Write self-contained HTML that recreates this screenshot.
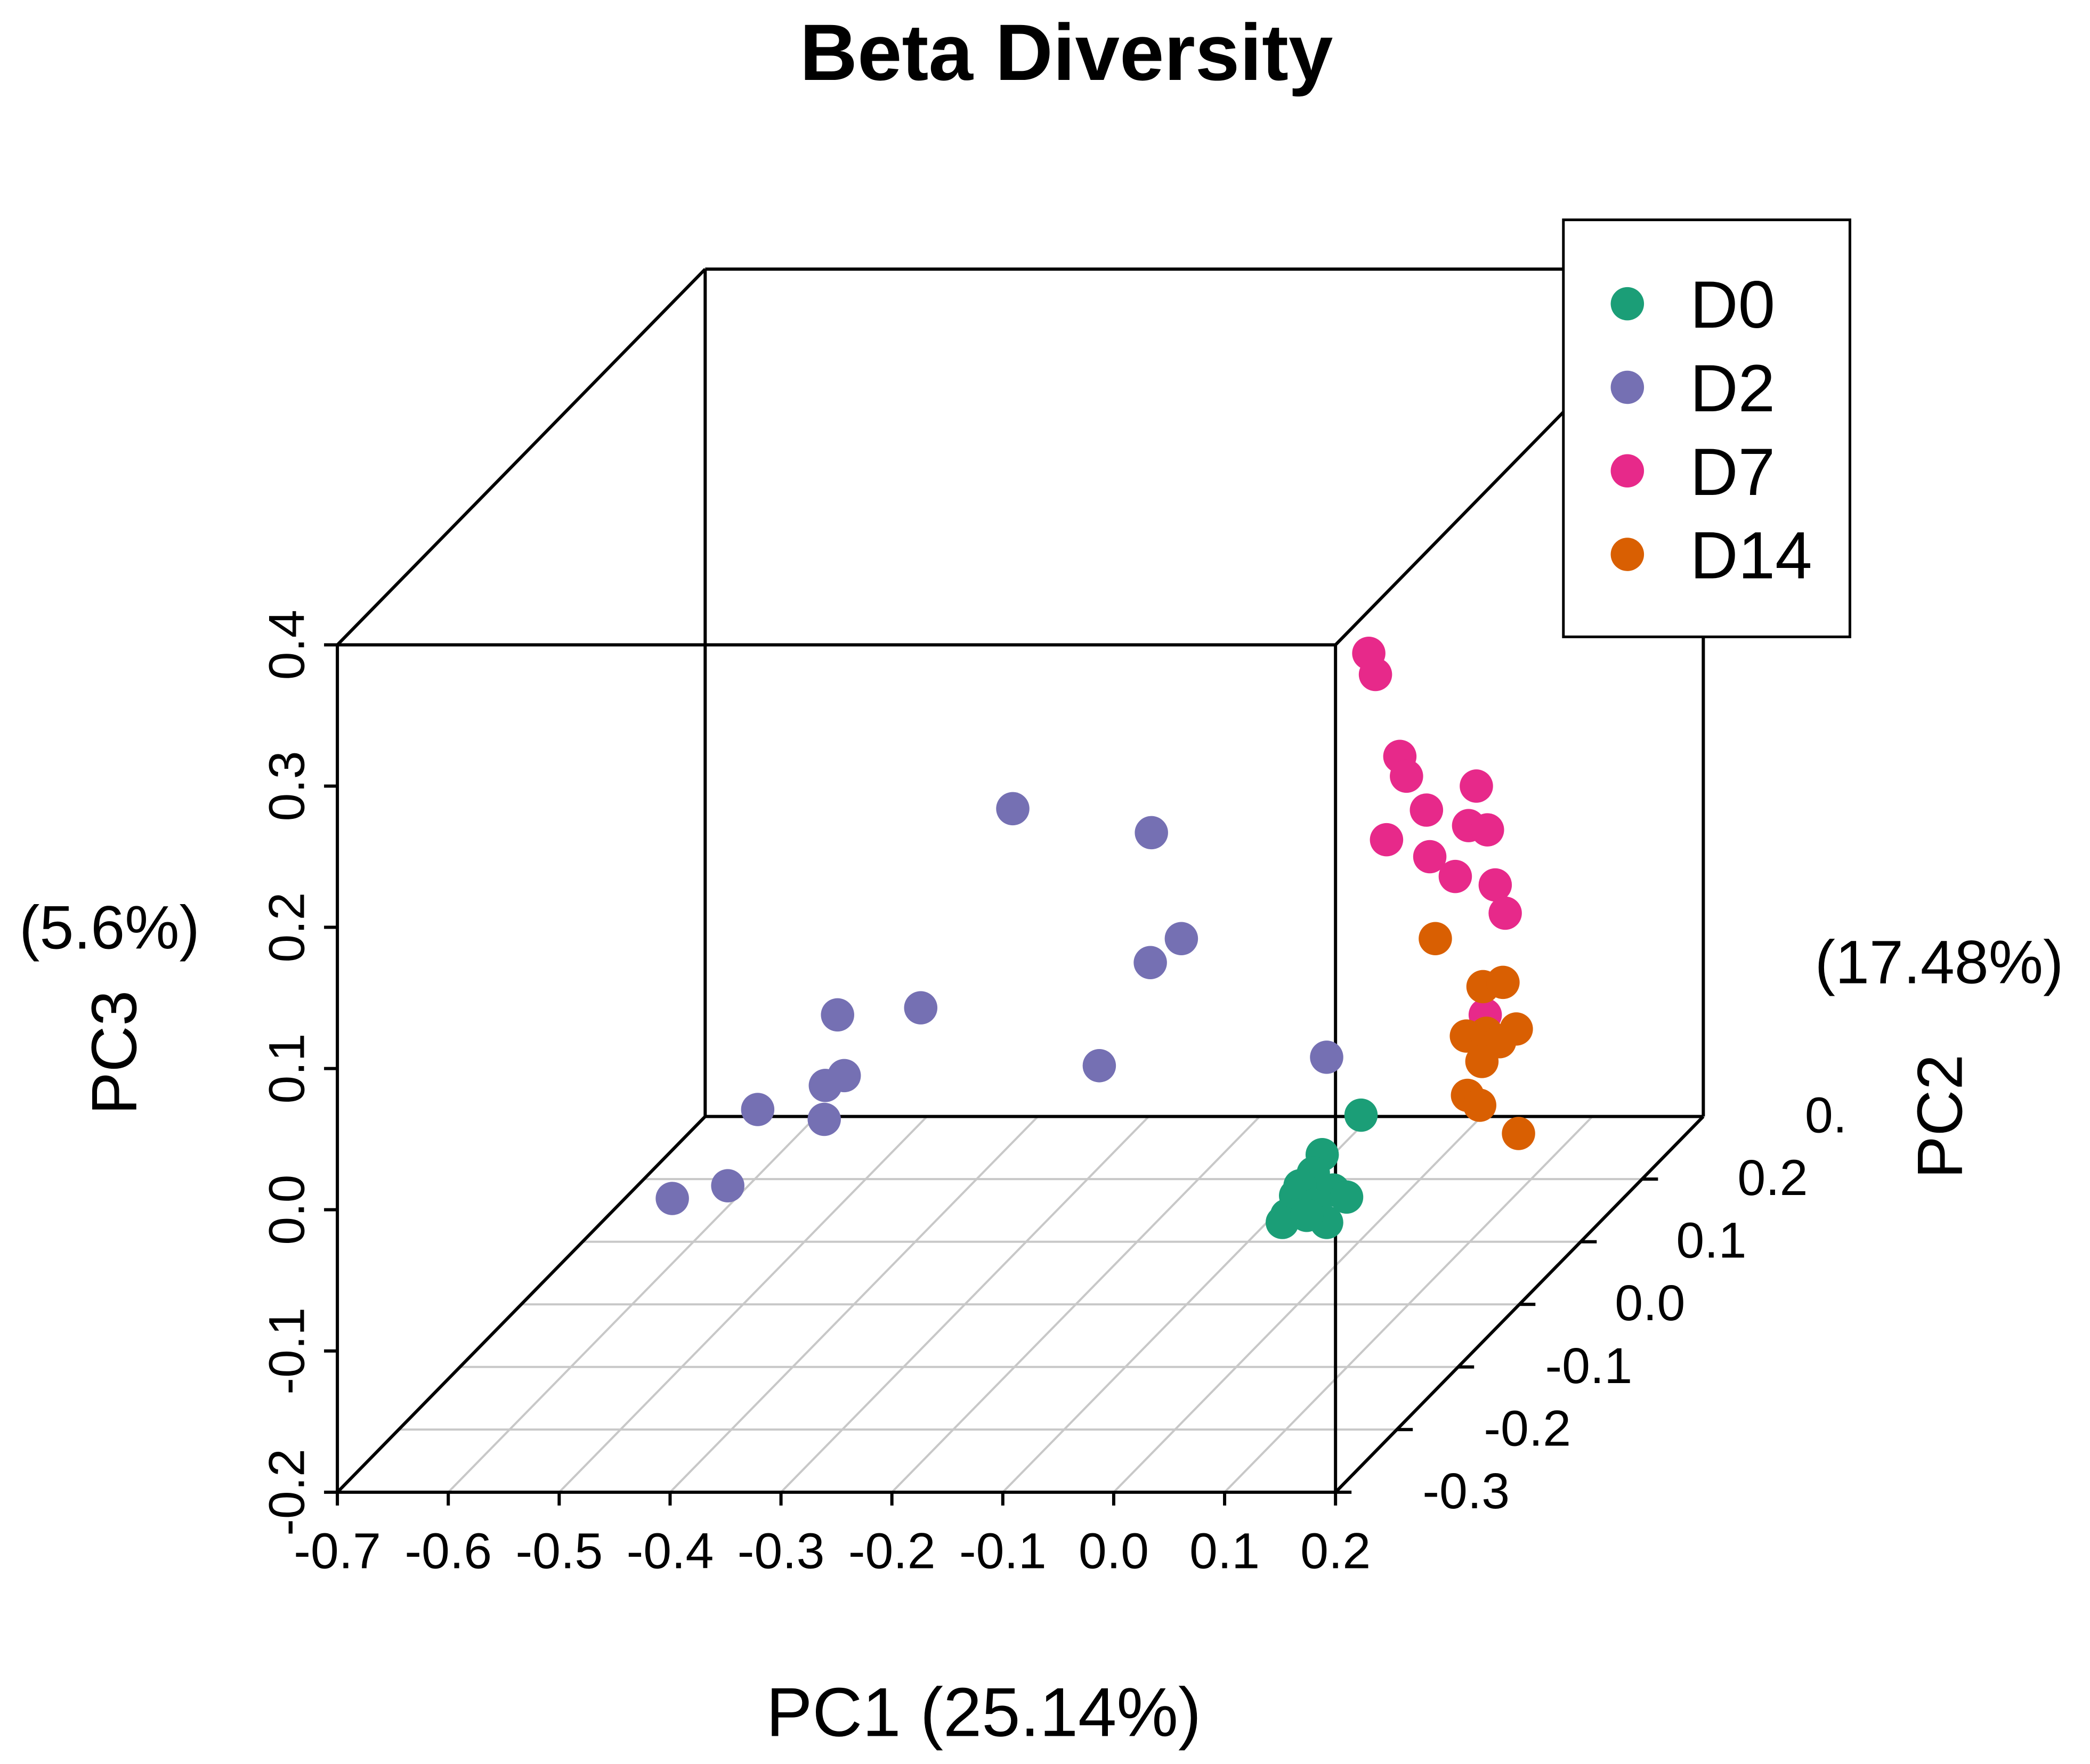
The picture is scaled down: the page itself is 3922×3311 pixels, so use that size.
<!DOCTYPE html>
<html><head><meta charset="utf-8"><style>
html,body{margin:0;padding:0;background:#fff;}
svg{display:block;}
text{font-family:"Liberation Sans",sans-serif;fill:#000;}
</style></head><body>
<svg id="chart" width="3922" height="3311" viewBox="0 0 1568 1324" xmlns="http://www.w3.org/2000/svg">
<text x="800" y="60" text-anchor="middle" font-size="60" font-weight="bold">Beta Diversity</text>
<g id="grid" stroke="#c8c8c8" stroke-width="1.6" fill="none"></g>
<g id="box" stroke="#000" stroke-width="2.4" fill="none"></g>
<g id="ticks" stroke="#000" stroke-width="2.4"></g>
<g id="labels" font-size="38"></g>
<g id="points"></g>
<text x="738" y="1303" text-anchor="middle" font-size="52">PC1 (25.14%)</text>
<text x="82" y="712" text-anchor="middle" font-size="46">(5.6%)</text>
<text transform="translate(102,790) rotate(-90)" text-anchor="middle" font-size="48">PC3</text>
<text x="1455" y="738" text-anchor="middle" font-size="46">(17.48%)</text>
<text transform="translate(1472,838) rotate(-90)" text-anchor="middle" font-size="48">PC2</text>
<g>
<rect x="1173" y="165" width="215" height="313" fill="#fff" stroke="#000" stroke-width="2"/>
<g id="legend-items"></g>
</g>
</svg>
<script>
const groups = ["D0","D2","D7","D14"];
const colors = ["#1b9e77","#7570b3","#e7298a","#d95f02"];
const pc1Ticks = [-0.7,-0.6,-0.5,-0.4,-0.3,-0.2,-0.1,0.0,0.1,0.2];
const pc2Ticks = [-0.3,-0.2,-0.1,0.0,0.1,0.2];
const pc3Ticks = [-0.2,-0.1,0.0,0.1,0.2,0.3,0.4];
const pc1Labels = ["-0.7","-0.6","-0.5","-0.4","-0.3","-0.2","-0.1","0.0","0.1","0.2"];
const pc2Labels = ["-0.3","-0.2","-0.1","0.0","0.1","0.2"];
const pc3Labels = ["-0.2","-0.1","0.0","0.1","0.2","0.3","0.4"];
// sample scores (PC1, PC3) by group; PC2 shown at front plane
const d0PC1 = [0.223,0.188,0.180,0.168,0.198,0.210,0.164,0.180,0.156,0.192,0.152,0.174];
const d0PC3 = [0.067,0.039,0.026,0.017,0.014,0.009,0.010,0.003,-0.004,-0.009,-0.009,-0.004];
const d2PC1 = [-0.091,0.034,0.061,0.033,-0.174,-0.249,-0.013,0.192,-0.243,-0.260,-0.321,-0.261,-0.348,-0.398];
const d2PC3 = [0.284,0.267,0.192,0.175,0.143,0.138,0.102,0.108,0.095,0.088,0.071,0.064,0.017,0.008];
const d7PC1 = [0.230,0.236,0.258,0.264,0.282,0.327,0.320,0.337,0.246,0.285,0.308,0.344,0.353,0.335];
const d7PC3 = [0.394,0.379,0.321,0.307,0.283,0.300,0.272,0.269,0.262,0.250,0.236,0.230,0.210,0.138];
const d14PC1 = [0.290,0.333,0.351,0.318,0.336,0.363,0.348,0.332,0.319,0.330,0.365];
const d14PC3 = [0.192,0.158,0.161,0.123,0.125,0.128,0.119,0.105,0.081,0.074,0.054];
const pc2Value = -0.3;

const NS="http://www.w3.org/2000/svg";
const X0=253,X1=1002,Y0=1120,Y1=484,DX=276,DY=282;
function fx(v){return X0+(v+0.7)/0.9*(X1-X0);}
function fz(v){return Y0-(v+0.2)/0.6*(Y0-Y1);}
function fd(v){return (v+0.3)/0.6;}
function proj(a,b,c){const t=fd(b);return [fx(a)+DX*t, fz(c)-DY*t];}
function el(tag,attrs,parent){const e=document.createElementNS(NS,tag);for(const k in attrs)e.setAttribute(k,attrs[k]);parent.appendChild(e);return e;}
const grid=document.getElementById('grid'),box=document.getElementById('box'),ticks=document.getElementById('ticks'),labels=document.getElementById('labels'),pts=document.getElementById('points');
pc1Ticks.forEach(v=>{const a=proj(v,-0.3,-0.2),b=proj(v,0.3,-0.2);
 const l=el('line',{x1:a[0],y1:a[1],x2:b[0],y2:b[1]},grid);
 
 });
pc2Ticks.concat([0.3]).forEach(v=>{const a=proj(-0.7,v,-0.2),b=proj(0.2,v,-0.2);
 const l=el('line',{x1:a[0],y1:a[1],x2:b[0],y2:b[1]},grid);
 
 });
const C=[[-0.7,-0.3,-0.2],[0.2,-0.3,-0.2],[0.2,-0.3,0.4],[-0.7,-0.3,0.4],[-0.7,0.3,-0.2],[0.2,0.3,-0.2],[0.2,0.3,0.4],[-0.7,0.3,0.4]];
[[0,1],[1,2],[2,3],[3,0],[4,5],[5,6],[6,7],[7,4],[0,4],[1,5],[2,6],[3,7]].forEach(e=>{
 const a=proj(...C[e[0]]),b=proj(...C[e[1]]);
 const l=el('line',{x1:a[0],y1:a[1],x2:b[0],y2:b[1]},box);
 
 });
pc1Ticks.forEach((v,i)=>{const x=fx(v);
 el('line',{x1:x,y1:Y0,x2:x,y2:Y0+10},ticks);
 const t=el('text',{x:x,y:Y0+57,'text-anchor':'middle'},labels);t.textContent=pc1Labels[i];
 
 });
pc3Ticks.forEach((v,i)=>{const y=fz(v);
 el('line',{x1:X0,y1:y,x2:X0-10,y2:y},ticks);
 const t=el('text',{transform:`translate(${X0-25},${y}) rotate(-90)`,'text-anchor':'middle'},labels);t.textContent=pc3Labels[i];
 
 });
pc2Ticks.forEach((v,i)=>{const p=proj(0.2,v,-0.2);
 el('line',{x1:p[0],y1:p[1],x2:p[0]+12,y2:p[1]},ticks);
 const t=el('text',{x:p[0]+98,y:p[1]+12,'text-anchor':'middle'},labels);t.textContent=pc2Labels[i];
 
 });
{const p=proj(0.2,0.3,-0.2);const t=el('text',{x:p[0]+92,y:p[1]+12,'text-anchor':'middle'},labels);t.textContent="0.";
 
 }
const series=[[d0PC1,d0PC3],[d2PC1,d2PC3],[d7PC1,d7PC3],[d14PC1,d14PC3]];
series.forEach((s,g)=>{s[0].forEach((v,i)=>{const p=proj(v,pc2Value,s[1][i]);
 const c=el('circle',{cx:p[0],cy:p[1],r:12.5,fill:colors[g]},pts);
 
 });});
const li=document.getElementById('legend-items');
groups.forEach((g,i)=>{const y=228+i*62.7;
 const c=el('circle',{cx:1221,cy:y,r:12.5,fill:colors[i]},li);
 
 
 const t=el('text',{x:1268,y:y+18,'font-size':50},li);t.textContent=g;
 
 });
</script>
</body></html>
